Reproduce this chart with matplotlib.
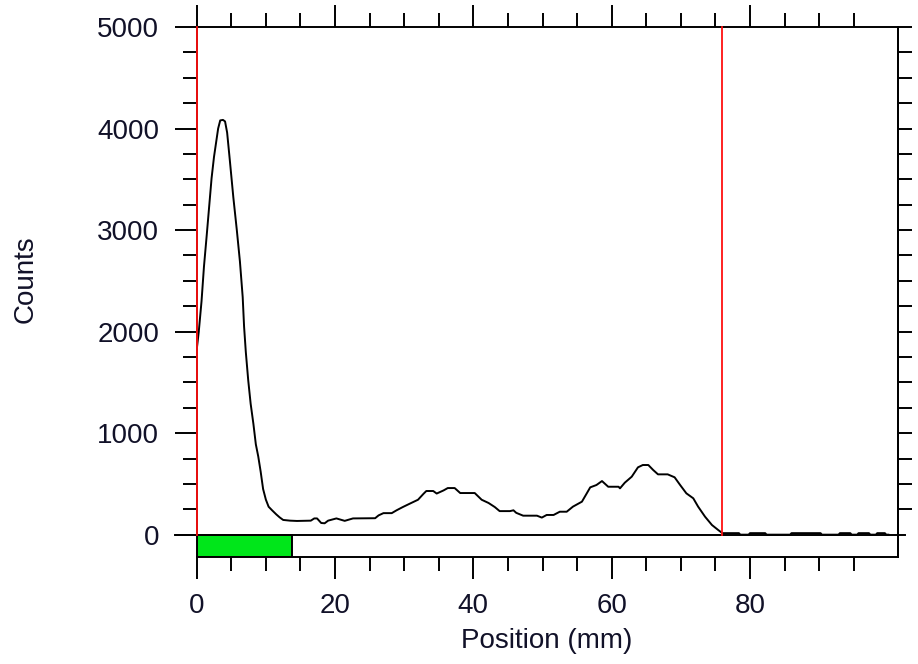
import numpy as np
import matplotlib
matplotlib.use("Agg")
import matplotlib.pyplot as plt

plt.rcParams['font.family'] = ['Liberation Sans', 'DejaVu Sans']

# Scan profile: position along the strip (mm) and detector counts
position_mm = [
    0.0, 0.3, 0.7, 1.05, 1.45, 1.8, 2.15, 2.5, 2.8, 3.1, 3.4, 3.8, 4.1, 4.4,
    4.8, 5.3, 5.8, 6.25, 6.65, 6.85, 7.1, 7.45, 7.8, 8.2, 8.55, 8.9, 9.25,
    9.6, 10.0, 10.4, 10.9, 11.5, 12.0, 12.5, 13.5, 14.5, 16.5, 17.0, 17.4,
    18.0, 18.5, 19.0, 20.2, 21.4, 22.6, 25.8, 26.3, 27.0, 28.2, 28.9, 29.8,
    30.8, 32.0, 32.8, 33.2, 34.2, 34.7, 35.7, 36.3, 37.3, 38.1, 40.2, 41.2,
    42.2, 43.1, 43.8, 45.3, 45.8, 46.2, 47.2, 49.2, 49.9, 50.6, 51.6, 52.5,
    53.5, 54.4, 55.7, 56.4, 56.9, 57.8, 58.6, 59.5, 61.0, 61.2, 61.9, 62.9,
    63.8, 64.5, 65.3, 66.0, 66.7, 68.1, 69.1, 69.9, 70.8, 71.8, 72.5, 73.5,
    74.5, 75.4, 76.0, 78.4, 78.6, 79.8, 80.0, 82.2, 82.4, 85.8, 86.0, 88.2,
    88.5, 90.2, 90.4, 92.8, 93.0, 94.5, 94.7, 95.5, 95.7, 97.2, 97.4, 98.2,
    98.4, 99.5, 99.7, 100.0,
]
counts = [
    1820, 2000, 2300, 2640, 2950, 3230, 3510, 3720, 3860, 4000, 4080, 4085,
    4070, 3960, 3680, 3320, 3000, 2690, 2340, 2050, 1800, 1520, 1290, 1090,
    890, 770, 620, 450, 345, 275, 240, 200, 170, 145, 138, 135, 138, 160,
    160, 115, 112, 138, 160, 136, 160, 162, 190, 212, 212, 240, 272, 305,
    344, 403, 430, 430, 405, 436, 459, 459, 410, 410, 344, 312, 272, 232,
    232, 240, 215, 187, 187, 168, 194, 194, 226, 226, 276, 325, 407, 466,
    489, 528, 472, 472, 456, 512, 571, 663, 686, 686, 637, 594, 594, 565,
    489, 407, 358, 276, 177, 95, 46, 15, 15, 0, 0, 15, 15, 0, 0, 15, 15,
    15, 15, 0, 0, 15, 15, 0, 0, 15, 15, 0, 0, 15, 15, 0, 0,
]

# Region-of-interest markers and the integrated peak band
roi_limits_mm = [0.0, 76.0]
peak_band_mm = [0.0, 13.8]

x_major = [0, 20, 40, 60, 80]
x_minor = [v for v in range(5, 100, 5) if v not in x_major]
y_major = [0, 1000, 2000, 3000, 4000, 5000]
y_minor = [v for v in range(250, 5000, 250) if v % 1000 != 0]

txt_color = '#111128'
lw = 1.4

fig = plt.figure(figsize=(9.18, 6.64), dpi=100)
ax = fig.add_axes([196.7 / 918, 1 - 557 / 664, (898 - 196.7) / 918, (557 - 27) / 664])

ax.set_xlim(0, 101.4)
ax.set_ylim(-220, 5000)

# Band under the baseline
ax.add_patch(plt.Rectangle((peak_band_mm[0], -220), peak_band_mm[1] - peak_band_mm[0], 220,
                           facecolor='#00e61a', edgecolor='black', linewidth=lw, zorder=2))

# Baseline, extended slightly past the frame
ax.axhline(0, xmin=-0.031, xmax=1.01, color='black', linewidth=lw, clip_on=False, zorder=3)

ax.plot(position_mm, counts, color='black', linewidth=lw, zorder=4)

for xr in roi_limits_mm:
    ax.plot([xr, xr], [0, 5000], color='#ff1010', linewidth=1.3, zorder=5, clip_on=False)

ax.set_xticks(x_major)
ax.set_xticks(x_minor, minor=True)
ax.set_yticks(y_major)
ax.set_yticks(y_minor, minor=True)

ax.tick_params(axis='x', which='both', direction='out', top=True, bottom=True,
               width=lw, colors='black', labelcolor=txt_color, labelsize=20)
ax.tick_params(axis='x', which='major', length=16, pad=10)
ax.tick_params(axis='x', which='minor', length=10)
ax.tick_params(axis='y', which='both', direction='out', left=True, right=False,
               width=lw, colors='black', labelcolor=txt_color, labelsize=20)
ax.tick_params(axis='y', which='major', length=16, pad=11)
ax.tick_params(axis='y', which='minor', length=10)

for s in ax.spines.values():
    s.set_linewidth(lw)
    s.set_color('black')

# Right-hand ticks (unlabelled)
sec = ax.secondary_yaxis('right')
sec.set_yticks([1000, 2000, 3000, 4000, 5000])
sec.set_yticks(y_minor, minor=True)
sec.tick_params(axis='y', which='both', direction='out', length=10, width=lw,
                labelright=False)
sec.spines['right'].set_linewidth(lw)

fig.text(547 / 918, 1 - 641 / 664, 'Position (mm)', ha='center', va='center',
         fontsize=20, color=txt_color)
fig.text(26 / 918, 1 - 279 / 664, 'Counts', ha='center', va='center',
         rotation=90, fontsize=20, color=txt_color)

fig.savefig('out.png', dpi=100, facecolor='white')
